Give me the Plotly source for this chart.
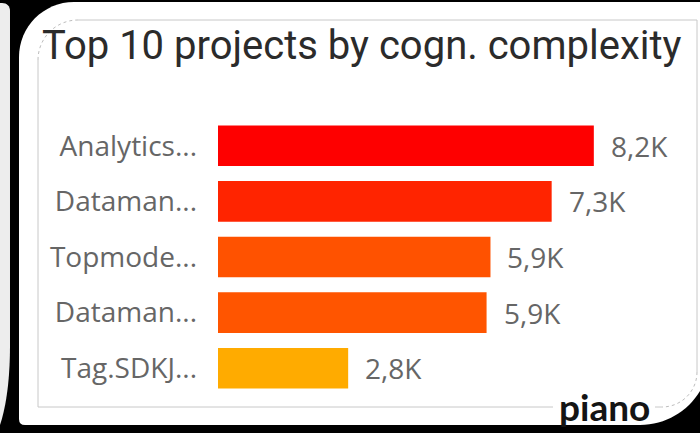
import plotly.graph_objects as go

# Cognitive complexity per project (top 5 shown)
projects = ["Analytics...", "Dataman...", "Topmode...", "Dataman...", "Tag.SDKJ..."]
complexity = [8200, 7280, 5945, 5860, 2840]
bar_colors = ["#FE0000", "#FF2400", "#FF5200", "#FF5500", "#FFAB00"]

title_text = "Top 10 projects by cogn. complexity"

W, H = 700, 433
ML, MR, MT, MB = 218, 20, 118, 37
PW, PH = W - ML - MR, H - MT - MB
XMAX = 10080


def fmt_k(v):
    return f"{v / 1000:.1f}K".replace(".", ",")


def px(x, y):
    """Pixel position -> paper coordinates string for shape paths."""
    return f"{(x - ML) / PW:.5f},{(H - MB - y) / PH:.5f}"


def pxx(x):
    return (x - ML) / PW


def pxy(y):
    return (H - MB - y) / PH


K = 0.5523

ypos = list(range(len(projects)))

fig = go.Figure(
    go.Bar(
        x=complexity,
        y=ypos,
        orientation="h",
        marker=dict(color=bar_colors, line=dict(width=0)),
        width=0.73,
        hoverinfo="skip",
    )
)

shapes = []

# left neighbouring card fragment
shapes.append(dict(
    type="path", xref="paper", yref="paper", layer="below",
    path=(f"M{px(-30, 3)} L{px(2, 3)} C{px(7, 3)} {px(10, 6)} {px(10, 11)} "
          f"L{px(10, 345)} C{px(10, 385)} {px(5, 410)} {px(0, 425)} L{px(-30, 425)} Z"),
    fillcolor="#ededed", line=dict(width=0),
))

# main white card
r1 = 55
r2 = 70
shapes.append(dict(
    type="path", xref="paper", yref="paper", layer="below",
    path=(f"M{px(19, 2 + r1)} C{px(19, 2 + r1 - r1 * K)} {px(19 + r1 - r1 * K, 2)} {px(19 + r1, 2)} "
          f"L{px(710, 2)} L{px(710, 425 - r2)} "
          f"C{px(710, 425 - r2 + r2 * K)} {px(710 - r2 + r2 * K, 425)} {px(710 - r2, 425)} "
          f"L{px(25, 425)} Q{px(19, 425)} {px(19, 419)} Z"),
    fillcolor="#ffffff", line=dict(width=0),
))

# inner frame
frame = dict(color="#c8c8c8", width=1)
for (x0, y0, x1, y1) in [(78, 20, 697, 20), (697, 20, 697, 372),
                         (38, 407, 662, 407), (38, 60, 38, 407)]:
    shapes.append(dict(type="line", xref="paper", yref="paper", layer="below",
                       x0=pxx(x0), y0=pxy(y0), x1=pxx(x1), y1=pxy(y1), line=frame))
ra, rb = 40, 35
shapes.append(dict(
    type="path", xref="paper", yref="paper", layer="below",
    path=f"M{px(38, 60)} C{px(38, 60 - ra * K)} {px(78 - ra * K, 20)} {px(78, 20)}",
    line=dict(color="#bdbdbd", width=1, dash="dot"),
))
shapes.append(dict(
    type="path", xref="paper", yref="paper", layer="below",
    path=f"M{px(697, 372)} C{px(697, 372 + rb * K)} {px(662 + rb * K, 407)} {px(662, 407)}",
    line=dict(color="#bdbdbd", width=1, dash="dot"),
))
# gap in frame behind the logo
shapes.append(dict(type="rect", xref="paper", yref="paper", layer="below",
                   x0=pxx(553), x1=pxx(655), y0=pxy(412), y1=pxy(400),
                   fillcolor="#ffffff", line=dict(width=0)))

annotations = []
# title
annotations.append(dict(
    xref="paper", yref="paper", x=pxx(40), y=pxy(45), xanchor="left", yanchor="middle",
    text=title_text, showarrow=False,
    font=dict(family="Roboto", size=40, color="#2b2b2b"),
))
# value labels
for i, v in enumerate(complexity):
    annotations.append(dict(
        x=v, y=i, xref="x", yref="y", xanchor="left", yanchor="middle",
        xshift=15, text=fmt_k(v), showarrow=False,
        font=dict(family="Open Sans", size=28, color="#666666"),
    ))
# logo
annotations.append(dict(
    xref="paper", yref="paper", x=pxx(604), y=pxy(406), xanchor="center", yanchor="middle",
    text="<b>piano</b>", showarrow=False,
    font=dict(family="Lato", size=37, color="#141414"),
))

fig.update_layout(
    width=W, height=H,
    margin=dict(l=ML, r=MR, t=MT, b=MB, pad=0),
    paper_bgcolor="#000000",
    plot_bgcolor="rgba(0,0,0,0)",
    showlegend=False,
    bargap=0.27,
    xaxis=dict(range=[0, XMAX], visible=False, fixedrange=True),
    yaxis=dict(
        range=[len(projects) - 0.5, -0.5],
        tickvals=ypos, ticktext=projects,
        showgrid=False, zeroline=False, showline=False, ticks="",
        ticklabelstandoff=20,
        tickfont=dict(family="Open Sans", size=28, color="#666666"),
        fixedrange=True,
    ),
    shapes=shapes,
    annotations=annotations,
)

fig.write_html("out.html")
